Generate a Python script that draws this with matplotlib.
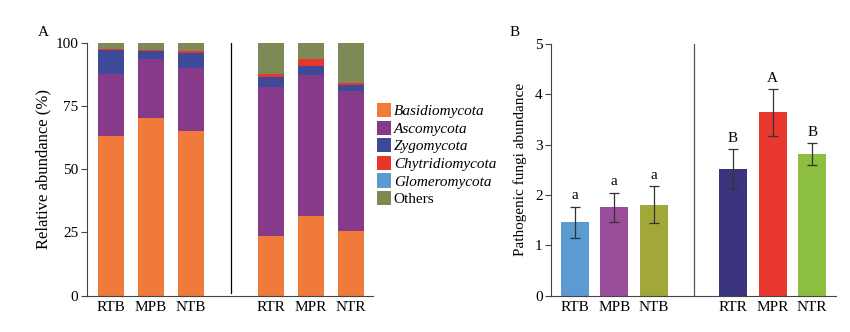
import numpy as np
import matplotlib
matplotlib.use('Agg')
import matplotlib.pyplot as plt
from matplotlib.patches import Patch

plt.rcParams['font.family'] = ['Liberation Serif', 'DejaVu Serif']
plt.rcParams['font.size'] = 9.5

# Panel A data (relative abundance, %)
samples = ['RTB', 'MPB', 'NTB', 'RTR', 'MPR', 'NTR']
phyla = ['Basidiomycota', 'Ascomycota', 'Zygomycota', 'Chytridiomycota', 'Glomeromycota', 'Others']
basidio = [63.2, 70.2, 65.1, 23.7, 31.5, 25.7]
asco = [24.3, 23.5, 25.0, 58.8, 55.7, 55.2]
zygo = [9.6, 3.0, 5.9, 3.9, 3.7, 2.2]
chytrid = [0.3, 0.5, 0.8, 1.2, 2.5, 0.8]
glomero = [0.1, 0.1, 0.1, 0.1, 0.1, 0.1]
others = [2.5, 2.7, 3.1, 12.3, 6.5, 16.0]
phylum_colors = ['#F07A3A', '#87398A', '#3D4A99', '#E8362F', '#5A9BD2', '#7E8A55']

# Panel B data
pathogen_mean = [1.46, 1.76, 1.81, 2.51, 3.64, 2.81]
pathogen_err = [0.31, 0.29, 0.36, 0.40, 0.46, 0.22]
sig_letters = ['a', 'a', 'a', 'B', 'A', 'B']
bar_colors_b = ['#5B9BD2', '#9A4E9A', '#A2A838', '#3A337D', '#E8372F', '#8CBF40']

x = np.array([0, 1, 2, 4, 5, 6])

fig = plt.figure(figsize=(8.5, 3.32), dpi=100)
axA = fig.add_axes([86.7 / 850, 1 - 295.7 / 332, (373 - 86.7) / 850, (295.7 - 42.7) / 332])
axB = fig.add_axes([551 / 850, 1 - 295.7 / 332, (836 - 551) / 850, (295.7 - 44) / 332])

# ---- Panel A: stacked bars
bottom = np.zeros(len(samples))
for vals, col in zip([basidio, asco, zygo, chytrid, glomero, others], phylum_colors):
    axA.bar(x, vals, width=0.65, bottom=bottom, color=col, linewidth=0)
    bottom += np.array(vals)

axA.set_xlim(-0.6, 6.56)
axA.set_ylim(0, 100)
axA.set_yticks([0, 25, 50, 75, 100])
axA.set_xticks(x)
axA.set_xticklabels(samples, fontsize=11)
axA.set_ylabel('Relative abundance (%)', fontsize=12, labelpad=3)
axA.plot([3, 3], [1, 100], color='black', lw=0.9)

# ---- Panel B: bars with error bars
axB.bar(x, pathogen_mean, width=0.7, color=bar_colors_b, linewidth=0)
axB.errorbar(x, pathogen_mean, yerr=pathogen_err, fmt='none', ecolor='#333333',
             elinewidth=0.9, capsize=3.5, capthick=0.9)
for xi, m, e, lab in zip(x, pathogen_mean, pathogen_err, sig_letters):
    axB.annotate(lab, (xi, m + e), xytext=(0, 3), textcoords='offset points',
                 ha='center', va='bottom', fontsize=11)
axB.set_xlim(-0.6, 6.6)
axB.set_ylim(0, 5)
axB.set_yticks([0, 1, 2, 3, 4, 5])
axB.set_xticks(x)
axB.set_xticklabels(samples, fontsize=11)
axB.set_ylabel('Pathogenic fungi abundance', fontsize=11, labelpad=6)
axB.plot([3, 3], [0, 5], color='#555555', lw=0.9)

for ax in (axA, axB):
    ax.spines['top'].set_visible(False)
    ax.spines['right'].set_visible(False)
    ax.spines['left'].set_color('#444444')
    ax.spines['bottom'].set_color('#444444')
    ax.tick_params(axis='x', length=0, pad=4)
    ax.tick_params(axis='y', length=4, color='#444444', labelsize=11, pad=2)

# legend
handles = [Patch(facecolor=c, edgecolor='none') for c in phylum_colors]
leg = fig.legend(handles, phyla, loc='upper left', bbox_to_anchor=(377 / 850, 1 - 103 / 332),
                 frameon=False, borderpad=0, borderaxespad=0, handlelength=0.9,
                 handleheight=1.05, labelspacing=0.15, handletextpad=0.2, fontsize=11)
for t in leg.get_texts()[:5]:
    t.set_fontstyle('italic')

fig.text(38 / 850, 1 - 33 / 332, 'A', fontsize=11, ha='left', va='center')
fig.text(510 / 850, 1 - 33 / 332, 'B', fontsize=11, ha='left', va='center')

fig.savefig('out.png', dpi=100)
